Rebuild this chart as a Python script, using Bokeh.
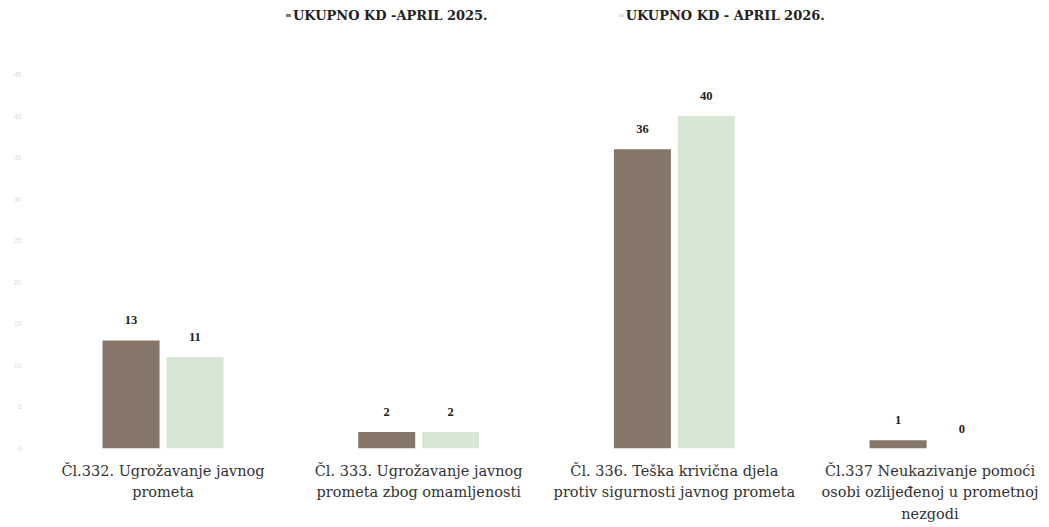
from bokeh.plotting import figure
from bokeh.models import ColumnDataSource, FixedTicker, Range1d, Legend, LegendItem
from bokeh.embed import file_html
from bokeh.resources import INLINE

categories = [
    "Čl.332. Ugrožavanje javnog\nprometa",
    "Čl. 333. Ugrožavanje javnog\nprometa zbog omamljenosti",
    "Čl. 336. Teška krivična djela\nprotiv sigurnosti javnog prometa",
    "Čl.337 Neukazivanje pomoći\nosobi ozlijeđenoj u prometnoj\nnezgodi",
]
series_names = ["UKUPNO KD -APRIL 2025.", "UKUPNO KD - APRIL 2026."]
values_2025 = [13, 2, 36, 1]
values_2026 = [11, 2, 40, 0]
y_ticks = [0, 5, 10, 15, 20, 25, 30, 35, 40, 45]

BROWN = "#85766a"
GREEN = "#d6e8d3"
OFFSET = 0.125
BAR_W = 0.223

xs = list(range(len(categories)))
src25 = ColumnDataSource(dict(x=[x - OFFSET for x in xs], top=values_2025,
                              lbl=[str(v) for v in values_2025]))
src26 = ColumnDataSource(dict(x=[x + OFFSET for x in xs], top=values_2026,
                              lbl=[str(v) for v in values_2026]))

p = figure(width=1049, height=527, output_backend="svg", toolbar_location=None,
           x_range=Range1d(-0.4987, 3.4673), y_range=Range1d(0, 53.9),
           min_border_left=35, min_border_right=0, min_border_top=0,
           min_border_bottom=79)
p.outline_line_color = None
p.xgrid.grid_line_color = None
p.ygrid.grid_line_color = None
p.background_fill_color = "white"

r25 = p.vbar(x="x", top="top", width=BAR_W, bottom=0, source=src25,
             fill_color=BROWN, line_color=None)
r26 = p.vbar(x="x", top="top", width=BAR_W, bottom=0, source=src26,
             fill_color=GREEN, line_color=None)

for src in (src25, src26):
    p.text(x="x", y="top", text="lbl", source=src, text_align="center",
           text_baseline="middle", y_offset=-20, text_font="DejaVu Serif",
           text_font_style="bold", text_font_size="12.5px", text_color="#222222")

# x axis
p.xaxis.ticker = FixedTicker(ticks=xs)
p.xaxis.major_label_overrides = {i: c for i, c in enumerate(categories)}
p.xaxis.axis_line_color = None
p.xaxis.major_tick_line_color = None
p.xaxis.minor_tick_line_color = None
p.xaxis.major_label_standoff = 8
p.xaxis.major_label_text_font = "DejaVu Serif"
p.xaxis.major_label_text_font_size = "14.5px"
p.xaxis.major_label_text_color = "#333333"
p.xaxis.major_label_text_line_height = 1.35

# y axis (faint)
p.yaxis.ticker = FixedTicker(ticks=y_ticks)
p.yaxis.axis_line_color = None
p.yaxis.major_tick_line_color = None
p.yaxis.minor_tick_line_color = None
p.yaxis.major_label_standoff = 8
p.yaxis.major_label_text_font_size = "7px"
p.yaxis.major_label_text_color = "#dddddd"

legend = Legend(items=[LegendItem(label=series_names[0], renderers=[r25]),
                       LegendItem(label=series_names[1], renderers=[r26])],
                orientation="horizontal", location=(250, 425),
                glyph_width=6, glyph_height=4, label_standoff=2, spacing=130,
                padding=0, margin=0, border_line_color=None,
                background_fill_alpha=0, label_height=16,
                label_text_font="DejaVu Serif", label_text_font_style="bold",
                label_text_font_size="13px", label_text_color="#222222")
p.add_layout(legend, "center")

open("out.html", "w").write(file_html(p, INLINE))
